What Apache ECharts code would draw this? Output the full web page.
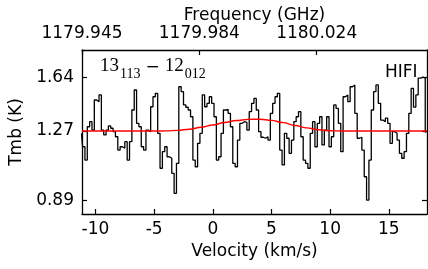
<!DOCTYPE html>
<html>
<head>
<meta charset="utf-8">
<script src="https://cdn.jsdelivr.net/npm/echarts@6/dist/echarts.min.js"></script>
<style>
  html, body { margin: 0; padding: 0; background: #fff; }
  #chart { width: 428px; height: 269px; }
</style>
</head>
<body>
<div id="chart"></div>
<script>
// spectrum channels (km/s) and main-beam temperature (K)
var velocity = [
  -11.2, -11.0, -10.8, -10.6, -10.4, -10.2, -10.0, -9.8, -9.6, -9.4,
  -9.2, -9.0, -8.8, -8.6, -8.4, -8.2, -8.0, -7.8, -7.6, -7.4,
  -7.2, -7.0, -6.8, -6.6, -6.4, -6.2, -6.0, -5.8, -5.6, -5.4,
  -5.2, -5.0, -4.8, -4.6, -4.4, -4.2, -4.0, -3.8, -3.6, -3.4,
  -3.2, -3.0, -2.8, -2.6, -2.4, -2.2, -2.0, -1.8, -1.6, -1.4,
  -1.2, -1.0, -0.8, -0.6, -0.4, -0.2, 0.0, 0.2, 0.4, 0.6,
  0.8, 1.0, 1.2, 1.4, 1.6, 1.8, 2.0, 2.2, 2.4, 2.6,
  2.8, 3.0, 3.2, 3.4, 3.6, 3.8, 4.0, 4.2, 4.4, 4.6,
  4.8, 5.0, 5.2, 5.4, 5.6, 5.8, 6.0, 6.2, 6.4, 6.6,
  6.8, 7.0, 7.2, 7.4, 7.6, 7.8, 8.0, 8.2, 8.4, 8.6,
  8.8, 9.0, 9.2, 9.4, 9.6, 9.8, 10.0, 10.2, 10.4, 10.6,
  10.8, 11.0, 11.2, 11.4, 11.6, 11.8, 12.0, 12.2, 12.4, 12.6,
  12.8, 13.0, 13.2, 13.4, 13.6, 13.8, 14.0, 14.2, 14.4, 14.6,
  14.8, 15.0, 15.2, 15.4, 15.6, 15.8, 16.0, 16.2, 16.4, 16.6,
  16.8, 17.0, 17.2, 17.4, 17.6, 17.8, 18.0, 18.2
];
var tmb = [
  1.301, 1.219, 1.138, 1.341, 1.372, 1.321, 1.504, 1.494, 1.535, 1.321,
  1.291, 1.321, 1.346, 1.332, 1.311, 1.280, 1.199, 1.219, 1.210, 1.250,
  1.138, 1.250, 1.443, 1.565, 1.362, 1.341, 1.219, 1.199, 1.321, 1.311,
  1.463, 1.524, 1.545, 1.301, 1.088, 1.189, 1.219, 1.158, 1.149, 1.057,
  0.935, 1.118, 1.585, 1.555, 1.474, 1.460, 1.443, 1.402, 1.138, 1.097,
  1.240, 1.301, 1.535, 1.463, 1.484, 1.524, 1.484, 1.402, 1.138, 1.158,
  1.301, 1.443, 1.447, 1.423, 1.341, 1.118, 1.097, 1.260, 1.362, 1.372,
  1.368, 1.321, 1.433, 1.484, 1.514, 1.443, 1.311, 1.277, 1.271, 1.280,
  1.260, 1.423, 1.484, 1.524, 1.545, 1.199, 1.108, 1.301, 1.271, 1.179,
  1.260, 1.372, 1.402, 1.433, 1.280, 1.138, 1.118, 1.088, 1.301, 1.372,
  1.219, 1.362, 1.402, 1.230, 1.321, 1.402, 1.219, 1.280, 1.474, 1.453,
  1.362, 1.189, 1.524, 1.535, 1.494, 1.585, 1.596, 1.423, 1.271, 1.277,
  1.199, 1.036, 0.894, 1.138, 1.443, 1.555, 1.596, 1.484, 1.382, 1.372,
  1.393, 1.362, 1.240, 1.311, 1.301, 1.260, 1.179, 1.149, 1.189, 1.301,
  1.423, 1.575, 1.461, 1.535, 1.638, 1.644, 1.638, 1.309
];

// gaussian fit (red)
var fitVelocity = [-11.15, -5, -4, -3, -2, -1, 0, 1, 2, 3, 4, 5, 6, 7, 8, 9, 10, 11, 18.25];
var fitTmb = [1.315, 1.315, 1.316, 1.319, 1.326, 1.338, 1.352, 1.367, 1.379, 1.386,
              1.387, 1.380, 1.366, 1.349, 1.334, 1.323, 1.317, 1.315, 1.315];

// axes
var velTicks = [-10, -5, 0, 5, 10, 15];
var freqTickPos = [-11.15, -1.15, 8.85];
var freqLabels = ['1179.945', '1179.984', '1180.024'];
var tmbTickPos = [0.89, 1.315, 1.64];
var tmbLabels = ['0.89', '1.27', '1.64'];

var font = 'DejaVu Sans';
var xMin = -11.15, xMax = 18.25;
var yMin = 0.809, yMax = 1.809;

function pick(list, labels, v) {
  for (var i = 0; i < list.length; i++) {
    if (Math.abs(list[i] - v) < 1e-6) return labels[i];
  }
  return '';
}

var lineCommon = { show: true, onZero: false, lineStyle: { color: '#000', width: 1.3 } };
var tickStyle = { color: '#000', width: 1.2 };
var nameStyle = { fontFamily: font, fontSize: 17, color: '#000' };

var chart = echarts.init(document.getElementById('chart'));
var option = {
  animation: false,
  grid: { left: 82, right: 1, top: 50, bottom: 55 },
  xAxis: [
    {
      type: 'value', position: 'bottom', min: xMin, max: xMax,
      axisLine: lineCommon,
      axisTick: { inside: true, length: 5, customValues: velTicks, lineStyle: tickStyle },
      axisLabel: { customValues: velTicks, fontFamily: font, fontSize: 17, color: '#000', margin: 7 },
      splitLine: { show: false },
      name: 'Velocity (km/s)', nameLocation: 'middle', nameGap: 28, nameTextStyle: nameStyle
    },
    {
      type: 'value', position: 'top', min: xMin, max: xMax,
      axisLine: lineCommon,
      axisTick: { inside: true, length: 5, customValues: freqTickPos, lineStyle: tickStyle },
      axisLabel: {
        customValues: freqTickPos, fontFamily: font, fontSize: 17, color: '#000', margin: 8,
        formatter: function (v) { return pick(freqTickPos, freqLabels, v); }
      },
      splitLine: { show: false },
      name: 'Frequency (GHz)', nameLocation: 'middle', nameGap: 26, nameMoveOverlap: false,
      nameTextStyle: nameStyle
    }
  ],
  yAxis: [
    {
      type: 'value', position: 'left', min: yMin, max: yMax,
      axisLine: lineCommon,
      axisTick: { show: true, inside: true, length: 5, customValues: tmbTickPos, lineStyle: tickStyle },
      axisLabel: {
        customValues: tmbTickPos, fontFamily: font, fontSize: 17, color: '#000', margin: 8,
        formatter: function (v) { return pick(tmbTickPos, tmbLabels, v); }
      },
      splitLine: { show: false },
      name: 'Tmb (K)', nameLocation: 'middle', nameGap: 48, nameRotate: 90, nameTextStyle: nameStyle
    },
    {
      type: 'value', position: 'right', min: yMin, max: yMax,
      axisLine: lineCommon,
      axisTick: { show: true, inside: true, length: 5, customValues: tmbTickPos, lineStyle: tickStyle },
      axisLabel: { show: false },
      splitLine: { show: false }
    }
  ],
  series: [
    {
      type: 'line', step: 'middle', showSymbol: false, clip: true,
      data: velocity.map(function (v, i) { return [v, tmb[i]]; }),
      lineStyle: { color: '#000', width: 1.3 }
    },
    {
      type: 'line', smooth: 0.4, smoothMonotone: 'x', showSymbol: false, clip: true,
      data: fitVelocity.map(function (v, i) { return [v, fitTmb[i]]; }),
      lineStyle: { color: '#ff0000', width: 1.4 }
    }
  ],
  graphic: [
    {
      type: 'text', left: 100, top: 57,
      style: {
        text: '{n|13}{s|113}{m|−}{n|12}{t|012}',
        fill: '#000',
        rich: {
          n: { fontFamily: 'Liberation Serif', fontSize: 19, padding: [0, 0, 5, 0], verticalAlign: 'bottom' },
          s: { fontFamily: 'Liberation Serif', fontSize: 14, padding: [0, 0, 0, 1], verticalAlign: 'bottom' },
          t: { fontFamily: 'Liberation Serif', fontSize: 14, padding: [0, 0, 0, 1], verticalAlign: 'bottom' },
          m: { fontFamily: 'DejaVu Sans', fontSize: 17, padding: [0, 5, 5, 5], verticalAlign: 'bottom' }
        }
      }
    },
    {
      type: 'text', left: 385, top: 64,
      style: { text: 'HIFI', fontFamily: font, fontSize: 17, fill: '#000' }
    }
  ]
};
chart.setOption(option);
</script>
</body>
</html>
